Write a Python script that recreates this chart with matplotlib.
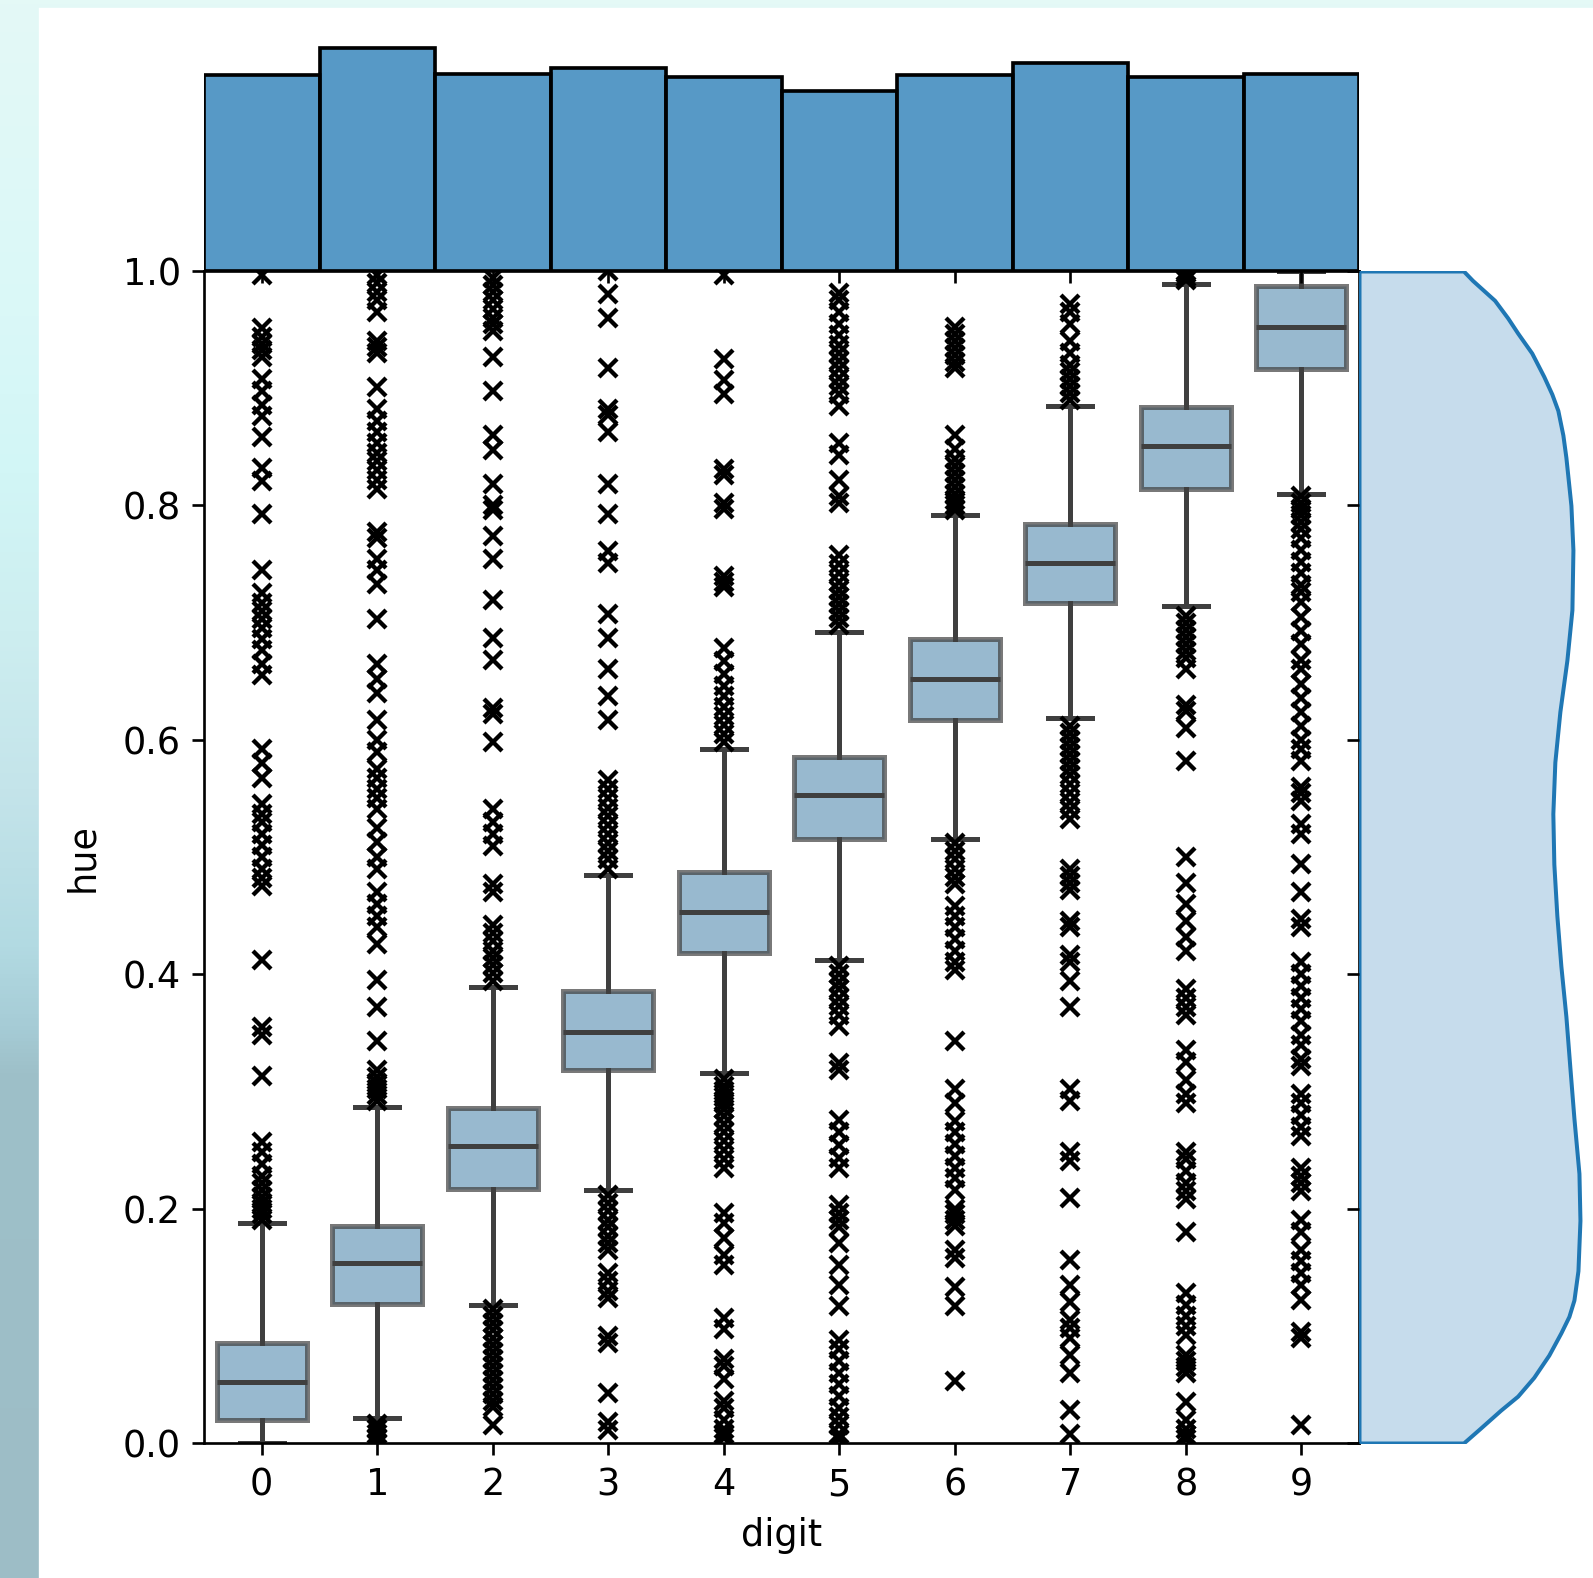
import numpy as np
import matplotlib
matplotlib.use("Agg")
from matplotlib import pyplot as plt
from matplotlib.patches import Rectangle
from matplotlib.colors import to_rgb

# --- data ---
digits = list(range(10))
counts = [5923, 6742, 5958, 6131, 5842, 5421, 5918, 6265, 5851, 5949]

q1 = [0.020, 0.119, 0.217, 0.318, 0.418, 0.515, 0.617, 0.717, 0.814, 0.916]
med = [0.052, 0.154, 0.253, 0.351, 0.453, 0.553, 0.652, 0.751, 0.851, 0.952]
q3 = [0.085, 0.185, 0.286, 0.386, 0.487, 0.585, 0.686, 0.784, 0.884, 0.987]
whislo = [0.0, 0.021, 0.118, 0.216, 0.316, 0.412, 0.515, 0.619, 0.714, 0.810]
whishi = [0.188, 0.287, 0.389, 0.485, 0.592, 0.692, 0.792, 0.885, 0.9885, 1.0]

fliers0 = [0.997, 0.951, 0.944, 0.938, 0.933, 0.927, 0.908, 0.898, 0.886, 0.876, 0.858,
           0.832, 0.821, 0.793, 0.745, 0.725, 0.717, 0.71, 0.703, 0.695, 0.686, 0.677,
           0.665, 0.655, 0.592, 0.58, 0.567, 0.545, 0.537, 0.53, 0.52, 0.51, 0.5, 0.49,
           0.482, 0.475, 0.412, 0.355, 0.348, 0.313, 0.257, 0.248, 0.238, 0.228, 0.222,
           0.216, 0.21, 0.205, 0.2, 0.195, 0.19]
fliers1 = [0.0, 0.004, 0.008, 0.012, 0.016,
           0.997, 0.99, 0.982, 0.975, 0.965, 0.94, 0.935, 0.93, 0.901, 0.882, 0.872, 0.863,
           0.853, 0.845, 0.838, 0.83, 0.822, 0.814, 0.777, 0.772, 0.754, 0.745, 0.733,
           0.703, 0.665, 0.652, 0.64, 0.617, 0.6, 0.59, 0.575, 0.567, 0.558, 0.55, 0.541,
           0.525, 0.513, 0.5, 0.49, 0.47, 0.46, 0.45, 0.44, 0.426, 0.395, 0.372, 0.343,
           0.318, 0.312, 0.307, 0.302, 0.297, 0.292]
fliers2 = [0.994, 0.988, 0.982, 0.975, 0.968, 0.96, 0.955, 0.949, 0.927, 0.898, 0.86, 0.847,
           0.818, 0.80, 0.796, 0.774, 0.754, 0.719, 0.687, 0.668, 0.627, 0.622, 0.598,
           0.541, 0.53, 0.52, 0.509, 0.477, 0.47, 0.442, 0.435, 0.428, 0.42, 0.414, 0.408,
           0.401, 0.394,
           0.114, 0.108, 0.102, 0.096, 0.09, 0.084, 0.078, 0.072, 0.066, 0.06, 0.054, 0.048,
           0.042, 0.036, 0.031, 0.015]
fliers3 = [1.0, 0.98, 0.96, 0.917, 0.882, 0.877, 0.863, 0.818, 0.793, 0.761, 0.751, 0.707,
           0.687, 0.66, 0.637, 0.617, 0.566, 0.558, 0.55, 0.542, 0.535, 0.527, 0.52, 0.512,
           0.505, 0.498, 0.49,
           0.212, 0.205, 0.198, 0.19, 0.184, 0.177, 0.171, 0.165, 0.145, 0.138, 0.13, 0.124,
           0.091, 0.085, 0.043, 0.018, 0.011]
fliers4 = [0.997, 0.925, 0.907, 0.895, 0.831, 0.826, 0.802, 0.797, 0.74, 0.735, 0.73, 0.678,
           0.667, 0.656, 0.646, 0.637, 0.628, 0.62, 0.613, 0.605, 0.598,
           0.311, 0.305, 0.3, 0.295, 0.29, 0.285, 0.279, 0.272, 0.265, 0.258, 0.25, 0.242,
           0.235, 0.196, 0.188, 0.175, 0.16, 0.152, 0.107, 0.097, 0.072, 0.066, 0.055, 0.036,
           0.03, 0.02, 0.012, 0.008, 0.004]
fliers5 = [0.981, 0.975, 0.965, 0.955, 0.945, 0.937, 0.93, 0.923, 0.916, 0.909, 0.902, 0.895,
           0.885, 0.853, 0.843, 0.822, 0.808, 0.802, 0.758, 0.75, 0.742, 0.735, 0.728, 0.722,
           0.716, 0.71, 0.704, 0.698,
           0.407, 0.4, 0.393, 0.387, 0.38, 0.373, 0.365, 0.356, 0.324, 0.318, 0.276, 0.265,
           0.254, 0.243, 0.235, 0.203, 0.196, 0.19, 0.184, 0.171, 0.152, 0.135, 0.117, 0.088,
           0.08, 0.07, 0.06, 0.05, 0.04, 0.03, 0.022, 0.015, 0.008, 0.003]
fliers6 = [0.952, 0.946, 0.94, 0.934, 0.928, 0.922, 0.917, 0.86, 0.848, 0.84, 0.834, 0.828,
           0.822, 0.816, 0.81, 0.805, 0.8, 0.796,
           0.512, 0.505, 0.498, 0.49, 0.483, 0.477, 0.458, 0.45, 0.44, 0.43, 0.42, 0.41,
           0.404, 0.343, 0.302, 0.29, 0.275, 0.265, 0.255, 0.245, 0.235, 0.226, 0.216, 0.2,
           0.195, 0.19, 0.185, 0.165, 0.158, 0.133, 0.117, 0.053]
fliers7 = [0.972, 0.965, 0.955, 0.94, 0.93, 0.92, 0.914, 0.908, 0.902, 0.896, 0.89,
           0.612, 0.606, 0.6, 0.594, 0.588, 0.582, 0.576, 0.57, 0.562, 0.555, 0.547, 0.54,
           0.532, 0.49, 0.484, 0.478, 0.472, 0.445, 0.44, 0.416, 0.41, 0.394, 0.372, 0.302,
           0.292, 0.248, 0.241, 0.209, 0.156, 0.135, 0.12, 0.105, 0.098, 0.09, 0.075, 0.06,
           0.028, 0.008]
fliers8 = [1.0, 0.998, 0.995, 0.992,
           0.706, 0.7, 0.694, 0.688, 0.682, 0.676, 0.67, 0.66, 0.63, 0.625, 0.61, 0.582, 0.5,
           0.478, 0.46, 0.445, 0.432, 0.42, 0.387, 0.38, 0.372, 0.365, 0.335, 0.325, 0.31,
           0.298, 0.29, 0.248, 0.242, 0.232, 0.222, 0.215, 0.208, 0.18, 0.128, 0.118, 0.108,
           0.1, 0.092, 0.075, 0.07, 0.065, 0.06, 0.035, 0.02, 0.012, 0.007, 0.003]
fliers9 = [0.808, 0.802, 0.797, 0.792, 0.786, 0.78, 0.772, 0.762, 0.752, 0.742, 0.732, 0.726,
           0.718, 0.705, 0.693, 0.682, 0.668, 0.66, 0.648, 0.636, 0.624, 0.612, 0.6, 0.592,
           0.582, 0.56, 0.555, 0.548, 0.528, 0.52, 0.494, 0.47, 0.447, 0.44, 0.41, 0.4, 0.39,
           0.38, 0.37, 0.36, 0.348, 0.34, 0.328, 0.322, 0.298, 0.29, 0.28, 0.27, 0.262, 0.235,
           0.228, 0.222, 0.215, 0.19, 0.18, 0.165, 0.155, 0.145, 0.135, 0.122, 0.095, 0.09,
           0.015]
fliers = [fliers0, fliers1, fliers2, fliers3, fliers4,
          fliers5, fliers6, fliers7, fliers8, fliers9]

# marginal density of hue, read at these hue values
kde_hue = [0.0, 0.012, 0.028, 0.04, 0.056, 0.075, 0.094, 0.108, 0.122, 0.147, 0.19, 0.23,
           0.277, 0.32, 0.364, 0.407, 0.45, 0.494, 0.537, 0.581, 0.624, 0.668, 0.711,
           0.762, 0.80, 0.841, 0.86, 0.881, 0.895, 0.91, 0.93, 0.947, 0.96, 0.975,
           0.992, 1.0]
kde_dens = [0.52, 0.60, 0.705, 0.79, 0.87, 0.945, 1.005, 1.045, 1.07, 1.09, 1.10, 1.095,
            1.07, 1.05, 1.03, 1.005, 0.985, 0.97, 0.965, 0.975, 1.0, 1.035, 1.06,
            1.065, 1.055, 1.03, 1.015, 0.99, 0.96, 0.92, 0.86, 0.79, 0.74, 0.675,
            0.565, 0.52]

# --- figure ---
W, H = 1593, 1578
dpi = 240
plt.rcParams['font.size'] = 11
fig = plt.figure(figsize=(W / dpi, H / dpi), dpi=dpi)

# backdrop: gradient strip on the left/top, white page
bg = fig.add_axes([0, 0, 1, 1], zorder=-10)
stops = [0.0, 0.2, 0.3, 0.4, 0.5, 0.6, 0.65, 0.68, 1.0]
cols = ['#e4f9f6', '#daf8f8', '#d2f6f6', '#cdeef0', '#c4e4ea', '#b2dae2', '#a6ccd6',
        '#9ec0c9', '#9dbdc6']
yy = np.linspace(0, 1, 400)
rgb = np.array([to_rgb(c) for c in cols])
grad = np.stack([np.interp(yy, stops, rgb[:, k]) for k in range(3)], axis=1)[:, None, :]
bg.imshow(grad, extent=(0, W, H, 0), aspect='auto')
bg.add_patch(Rectangle((40, 9), W - 40, H - 9, color='white'))
bg.set_xlim(0, W)
bg.set_ylim(H, 0)
bg.axis('off')

def frac(x0, y0, x1, y1):
    return [x0 / W, 1 - y1 / H, (x1 - x0) / W, (y1 - y0) / H]

ax = fig.add_axes(frac(204, 271, 1359, 1443))
ax_top = fig.add_axes(frac(204, 36.5, 1359, 271), sharex=ax)
ax_right = fig.add_axes(frac(1359, 271, 1591, 1443), sharey=ax)

c0 = to_rgb('#1f77b4')
box_face = to_rgb('#3274a1') + (0.5,)
line_col = '#3f3f3f'
lw = 1.5

stats = []
for i in digits:
    stats.append(dict(med=med[i], q1=q1[i], q3=q3[i], whislo=whislo[i],
                      whishi=whishi[i], fliers=fliers[i]))

ax.bxp(stats, positions=digits, widths=0.78, capwidths=0.38, patch_artist=True,
       boxprops=dict(facecolor=box_face, edgecolor=(0.25, 0.25, 0.25, 0.7), linewidth=lw),
       medianprops=dict(color=line_col, linewidth=lw),
       whiskerprops=dict(color=line_col, linewidth=lw),
       capprops=dict(color=line_col, linewidth=lw),
       flierprops=dict(marker='x', markeredgecolor='black', markersize=5.5,
                       markeredgewidth=1.3, linestyle='none'))
ax.set_xlim(-0.5, 9.5)
ax.set_ylim(0, 1)
ax.set_xticks(digits)
ax.set_xticklabels([str(d) for d in digits])
ax.set_yticks([0.0, 0.2, 0.4, 0.6, 0.8, 1.0])
ax.set_xlabel('digit')
ax.set_ylabel('hue', labelpad=6.5)

# top: counts per digit
ax_top.bar(digits, counts, width=1.0, color=c0 + (0.75,), edgecolor='black', linewidth=1.1)
ax_top.set_ylim(0, max(counts) * 1.05)
ax_top.tick_params(axis='x', labelbottom=False)
ax_top.tick_params(axis='y', left=False, labelleft=False)
for s in ax_top.spines.values():
    s.set_visible(False)

# right: hue density
ax_right.fill_betweenx(kde_hue, 0, kde_dens, facecolor=c0 + (0.25,), edgecolor=c0,
                       linewidth=1.2)
ax_right.set_xlim(0, max(kde_dens) * 1.05)
ax_right.tick_params(axis='y', labelleft=False)
ax_right.tick_params(axis='x', bottom=False, labelbottom=False)
for s in ax_right.spines.values():
    s.set_visible(False)

fig.savefig('out.png', dpi=dpi)
